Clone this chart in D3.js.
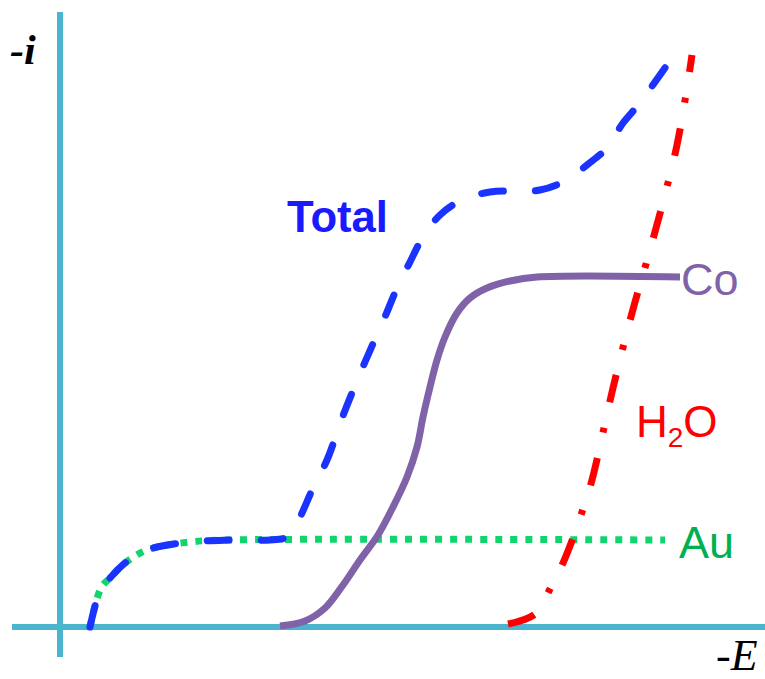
<!DOCTYPE html>
<html>
<head>
<meta charset="utf-8">
<script src="https://cdn.jsdelivr.net/npm/d3@7"></script>
<style>
body { margin: 0; background: #fff; }
</style>
</head>
<body>
<div id="chart"></div>
<script>
// curves: E (potential) and i (current) in arbitrary units
var auE = [30, 41, 50, 65, 87, 130, 170, 605];
var auI = [0, 39, 49, 64, 77, 85, 87, 87];

var totalE = [30, 41, 50, 65, 87, 130, 170, 210, 225, 233, 242, 253, 267, 284, 305, 327, 337, 350, 363, 380, 402, 430, 455, 480, 507, 527, 547, 563, 580, 595, 612];
var totalI = [0, 39, 49, 64, 77, 85, 87, 87, 89, 95, 114, 139, 167, 214, 265, 315, 339, 365, 390, 412, 427, 435, 436, 437, 447, 462, 479, 504, 524, 545, 569];

var coE = [220, 245, 265, 283, 300, 318, 333, 347, 357, 363, 370, 377, 385, 397, 410, 427, 450, 477, 620];
var coI = [1, 6, 19, 42, 67, 92, 120, 150, 180, 210, 240, 267, 290, 314, 329, 339, 346, 350, 350];

var h2oE = [448, 475, 490, 503, 513, 523, 532, 553, 572, 588, 603, 617, 627, 632];
var h2oI = [3, 13, 38, 64, 89, 118, 147, 239, 314, 370, 425, 482, 539, 572];

var labels = ["Total", "Co", "H2O", "Au"];

function init(){
    var w = 765;
    var h = 679;

    var x = d3.scaleLinear().domain([0, 700]).range([60, 760]);
    var y = d3.scaleLinear().domain([0, 600]).range([627, 27]);

    var svg = d3.select("#chart")
            .append("svg")
            .attr("width", w)
            .attr("height", h);

    var axisColor = "#4bb5cf";
    // axes
    svg.append("line")
        .attr("x1", x(0)).attr("x2", x(0))
        .attr("y1", 12).attr("y2", 657)
        .attr("stroke", axisColor).attr("stroke-width", 6);
    svg.append("line")
        .attr("x1", 12).attr("x2", 765)
        .attr("y1", y(0)).attr("y2", y(0))
        .attr("stroke", axisColor).attr("stroke-width", 6);

    var line = d3.line()
        .x(function(d){ return x(d[0]); })
        .y(function(d){ return y(d[1]); })
        .curve(d3.curveCatmullRom.alpha(0.5));

    function draw(es, is, color, dash, cap){
        svg.append("path")
            .datum(d3.zip(es, is))
            .attr("d", line)
            .attr("fill", "none")
            .attr("stroke", color)
            .attr("stroke-width", 7)
            .attr("stroke-linecap", cap)
            .attr("stroke-dasharray", dash);
    }

    draw(auE, auI, "#12d46c", "7,8", "butt");
    draw(coE, coI, "#8062a8", null, "butt");
    draw(totalE, totalI, "#1a33ff", "22,32", "round");
    draw(h2oE, h2oI, "#ff0000", "28,26,5,26", "butt");

    // axis titles
    svg.append("text")
        .attr("x", 10).attr("y", 64)
        .attr("font-family", "Liberation Serif")
        .attr("font-style", "italic")
        .attr("font-weight", "bold")
        .attr("font-size", 42)
        .attr("fill", "#000")
        .text("-i");
    svg.append("text")
        .attr("x", 716).attr("y", 670)
        .attr("font-family", "Liberation Serif")
        .attr("font-style", "italic")
        .attr("font-size", 44)
        .attr("fill", "#000")
        .text("-E");

    // curve labels
    svg.append("text")
        .attr("x", 287).attr("y", 232)
        .attr("font-family", "Liberation Sans")
        .attr("font-weight", "bold")
        .attr("font-size", 45)
        .attr("textLength", 101)
        .attr("lengthAdjust", "spacingAndGlyphs")
        .attr("fill", "#1a1aff")
        .text(labels[0]);
    svg.append("text")
        .attr("x", 681).attr("y", 295)
        .attr("font-family", "Liberation Sans")
        .attr("font-size", 45)
        .attr("fill", "#8062a8")
        .text(labels[1]);
    var t = svg.append("text")
        .attr("x", 636).attr("y", 437)
        .attr("font-family", "Liberation Sans")
        .attr("font-size", 44)
        .attr("fill", "#ff0000");
    t.append("tspan").text("H");
    t.append("tspan").attr("font-size", 28).attr("dy", 10).text("2");
    t.append("tspan").attr("dy", -10).text("O");
    svg.append("text")
        .attr("x", 679).attr("y", 558)
        .attr("font-family", "Liberation Sans")
        .attr("font-size", 45)
        .attr("fill", "#00b050")
        .text(labels[3]);
}
window.onload = init;
</script>
</body>
</html>
